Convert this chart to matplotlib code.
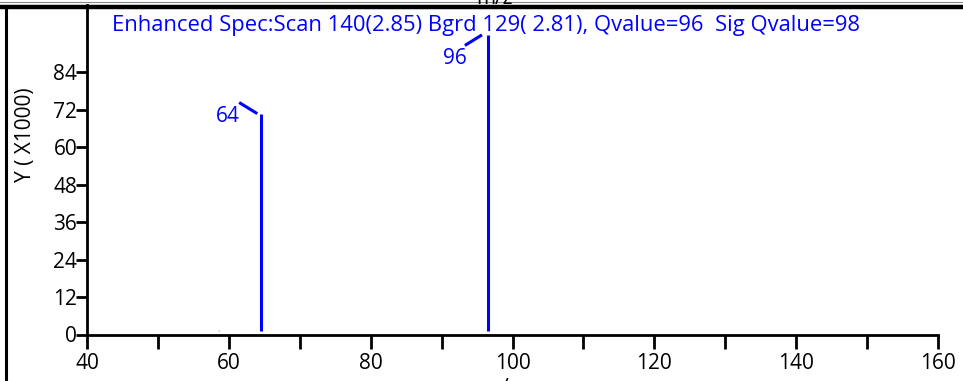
import matplotlib
matplotlib.use("Agg")
import matplotlib.pyplot as plt
from matplotlib.lines import Line2D

plt.rcParams['font.family'] = ['Open Sans', 'DejaVu Sans']

# Data (m/z positions, intensities in thousands)
mz = [58.6, 64.6, 96.5]
intensity = [1.5, 70.5, 96.0]
peak_labels = ["", "64", "96"]
baseline = 1.2

title = "Enhanced Spec:Scan 140(2.85) Bgrd 129( 2.81), Qvalue=96  Sig Qvalue=98"
xticks = [40, 60, 80, 100, 120, 140, 160]
yticks = [0, 12, 24, 36, 48, 60, 72, 84]
minor_xticks = [50, 70, 90, 110, 130, 150]

FS = 15
FS_TITLE = 15.8
W, H = 963, 381
fig = plt.figure(figsize=(W / 100, H / 100), dpi=100)
ax = fig.add_axes([87 / W, (H - 334.5) / H, (938 - 87) / W, (334.5 - 5) / H])
ax.set_xlim(40, 160)
ax.set_ylim(0, 105.5)

blue = "#0000ff"
for x, y, lab in zip(mz, intensity, peak_labels):
    if lab:
        ax.vlines(x, baseline, y, color=blue, lw=2.2)
    else:
        ax.vlines(x, baseline, y, color="#9999ff", lw=1.0)

# peak labels with leader lines (offsets in pixels)
px_per_x = (938 - 87) / 120
px_per_y = (334.5 - 5) / 105.5
def off(x, y, dx, dy):
    return x + dx / px_per_x, y - dy / px_per_y

# label 64
x, y = mz[1], intensity[1]
x1, y1 = off(x, y, -21, -11)
x2, y2 = off(x, y, -5.5, -1.5)
ax.plot([x1, x2], [y1, y2], color=blue, lw=2.2)
tx, ty = off(x, y, -34, 2)
ax.text(tx, ty, peak_labels[1], color=blue, fontsize=FS, ha='center', va='center')

# label 96
x, y = mz[2], intensity[2]
x1, y1 = off(x, y, -21.5, 10)
x2, y2 = off(x, y, -7, 1)
ax.plot([x1, x2], [y1, y2], color=blue, lw=2.2, clip_on=False)
tx, ty = off(x, y, -33, 24)
ax.text(tx, ty, peak_labels[2], color=blue, fontsize=FS, ha='center', va='center')

ax.set_xticks(xticks)
ax.set_xticks(minor_xticks, minor=True)
ax.set_yticks(yticks)
ax.set_xticklabels([str(v) for v in xticks])
ax.set_yticklabels([str(v) for v in yticks])
ax.tick_params(axis='x', which='both', direction='out', length=10, width=2, pad=3,
               labelsize=FS, colors='black')
ax.tick_params(axis='y', direction='out', length=8, width=2, pad=-1, labelsize=FS)
for s in ['top', 'right']:
    ax.spines[s].set_visible(False)
for s in ['left', 'bottom']:
    ax.spines[s].set_linewidth(2)

ax.set_ylabel("Y ( X1000)", fontsize=FS)
ax.yaxis.set_label_coords(-(87 - 36) / (938 - 87), (334.5 - 135) / (334.5 - 5))

fig.text(486 / W, 1 - 26 / H, title, color=blue, fontsize=FS_TITLE, ha='center', va='center')

# frame lines of the surrounding window
fig.add_artist(Line2D([0, 1], [1 - 6.5 / H, 1 - 6.5 / H], color='black', lw=3.2))
fig.add_artist(Line2D([0, 1], [1 - 1.5 / H, 1 - 1.5 / H], color='#888888', lw=0.8))
fig.add_artist(Line2D([5.5 / W, 5.5 / W], [0, 1 - 6.5 / H], color='black', lw=2.2))
# clipped axis titles of neighbouring panels
fig.text(494 / W, 1 - 4 / H, "m/z", fontsize=FS, ha='center', va='baseline')
fig.text(500 / W, -13 / H, "m/z", fontsize=FS, ha='center', va='baseline')

fig.savefig("out.png", dpi=100)
